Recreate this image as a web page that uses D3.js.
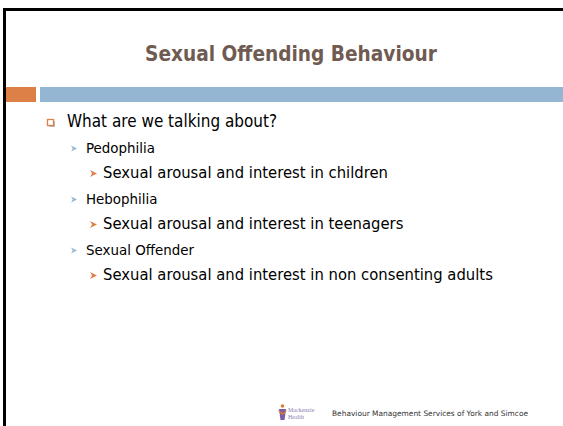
<!DOCTYPE html>
<html>
<head>
<meta charset="utf-8">
<script src="https://cdn.jsdelivr.net/npm/d3@7"></script>
<style>
  body { margin: 0; background: #fff; }
  svg { display: block; font-family: "DejaVu Sans", sans-serif; }
</style>
</head>
<body>
<div id="slide"></div>
<script>
// slide content
var title = "Sexual Offending Behaviour";
var levels = [1, 2, 3, 2, 3, 2, 3];
var items = [
    "What are we talking about?",
    "Pedophilia",
    "Sexual arousal and interest in children",
    "Hebophilia",
    "Sexual arousal and interest in teenagers",
    "Sexual Offender",
    "Sexual arousal and interest in non consenting adults"
];
var logoLines = ["Mackenzie", "Health"];
var footer = "Behaviour Management Services of York and Simcoe";

var w = 563, h = 426;

var svg = d3.select("#slide").append("svg")
    .attr("width", w)
    .attr("height", h);

// frame lines (top and left)
svg.append("rect").attr("x", 3).attr("y", 8).attr("width", w - 3).attr("height", 3).attr("fill", "#000");
svg.append("rect").attr("x", 3).attr("y", 8).attr("width", 3).attr("height", h - 8).attr("fill", "#000");

// accent bars
svg.append("rect").attr("x", 6).attr("y", 87).attr("width", 30).attr("height", 15).attr("fill", "#dd8047");
svg.append("rect").attr("x", 40).attr("y", 87).attr("width", w - 40).attr("height", 15).attr("fill", "#94b6d2");

// fit a text to a width measured from reference
function squeeze(sel, target) {
    var nat = sel.node().getComputedTextLength();
    sel.attr("textLength", target).attr("lengthAdjust", "spacingAndGlyphs");
    return target / nat;
}

var t = svg.append("text")
    .attr("x", 145)
    .attr("y", 61)
    .attr("font-size", 21)
    .attr("font-weight", "bold")
    .attr("fill", "#705b52")
    .text(title);
squeeze(t, 292);

// bullet list
var y = d3.scalePoint()
    .domain(d3.range(items.length))
    .range([127, 280]);

var style = {
    1: {x: 67, size: 17, ref: 210},
    2: {x: 86, size: 14, ref: 69},
    3: {x: 103, size: 15, ref: 285}
};

var rows = svg.selectAll(".item")
    .data(items)
    .enter().append("g")
    .attr("class", "item")
    .attr("transform", function(d, i) { return "translate(0," + y(i) + ")"; });

var texts = rows.append("text")
    .attr("x", function(d, i) { return style[levels[i]].x; })
    .attr("font-size", function(d, i) { return style[levels[i]].size; })
    .attr("fill", "#000")
    .text(function(d) { return d; });

// per-level squeeze factor from one measured line each
var factor = {};
texts.each(function(d, i) {
    var lv = levels[i];
    if (factor[lv] === undefined) {
        factor[lv] = style[lv].ref / this.getComputedTextLength();
    }
});
texts.each(function(d, i) {
    var nat = this.getComputedTextLength();
    d3.select(this).attr("textLength", nat * factor[levels[i]]).attr("lengthAdjust", "spacingAndGlyphs");
});

// bullets
rows.each(function(d, i) {
    var g = d3.select(this);
    var lv = levels[i];
    if (lv === 1) {
        g.append("rect").attr("x", 49).attr("y", -6).attr("width", 6).attr("height", 6).attr("fill", "#bbb");
        g.append("rect").attr("x", 47.5).attr("y", -7.5).attr("width", 6).attr("height", 6)
            .attr("fill", "#fff").attr("stroke", "#dd8047").attr("stroke-width", 1.3);
    } else {
        var x0 = lv === 2 ? 71 : 90;
        var s = lv === 2 ? 6 : 7;
        var c = lv === 2 ? "#94b6d2" : "#dd8047";
        g.append("path")
            .attr("d", "M" + x0 + "," + (-s - 1) + "L" + (x0 + s) + "," + (-s / 2 - 1) + "L" + x0 + ",-1L" + (x0 + s * 0.3) + "," + (-s / 2 - 1) + "Z")
            .attr("fill", c);
    }
});

// footer logo
var logo = svg.append("g").attr("transform", "translate(279,404)");
logo.append("circle").attr("cx", 3.5).attr("cy", 2).attr("r", 1.8).attr("fill", "#e07b2e");
logo.append("path").attr("d", "M0,5L7,5L5.5,16L1.5,16Z").attr("fill", "#7b5aa6");
logo.append("path").attr("d", "M-1,6L3.5,9L8,6L7,8L3.5,11L0,8Z").attr("fill", "#e07b2e");
logo.selectAll(".ll")
    .data(logoLines)
    .enter().append("text")
    .attr("class", "ll")
    .attr("x", 9)
    .attr("y", function(d, i) { return 8 + i * 7; })
    .attr("font-size", 6)
    .attr("font-family", "Liberation Serif, serif")
    .attr("fill", "#8c80b0")
    .text(function(d) { return d; });

var f = svg.append("text")
    .attr("x", 332)
    .attr("y", 416)
    .attr("font-size", 7.5)
    .attr("fill", "#333")
    .text(footer);
squeeze(f, 196);
</script>
</body>
</html>
